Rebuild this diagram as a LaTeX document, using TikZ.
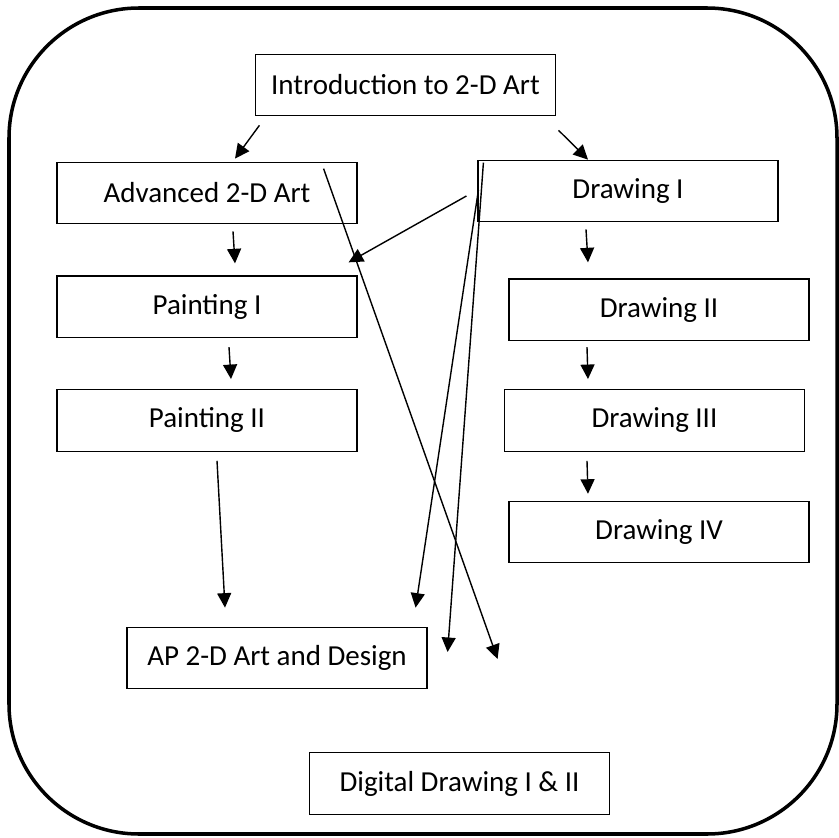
\documentclass[tikz,border=0pt]{standalone}
\usepackage{fontspec}
\setmainfont{Carlito}
\usetikzlibrary{arrows.meta,calc,positioning}
\tikzset{%
  arrow/.style={line width=0.8pt,-{Triangle[length=0.29cm,width=0.28cm]}},
  course/.style={rectangle,draw,line width=0.7pt,minimum width=6cm,minimum height=1.23cm,inner sep=0pt},
  frame/.style={draw,line width=2pt,rounded corners=2.6cm},
}

\begin{document}
\begin{tikzpicture}[x=0.02cm,y=-0.02cm,font=\fontsize{16.5pt}{20pt}\selectfont,node distance=1.02cm]
      \useasboundingbox (0,0) rectangle (839,838);
      \draw[frame] (9,8) rectangle (837,834);

      \node[course] (intro) at (405.5,85) {Introduction to 2-D Art};
      \node[course] (advanced) at (207,193) {Advanced 2-D Art};
      \node[course,below=of advanced] (painting1) {Painting I};
      \node[course,below=of painting1] (painting2) {Painting II};
      \node[course] (drawing1) at (628,191) {Drawing I};
      \node[course,below=1.12cm of drawing1,xshift=0.62cm] (drawing2) {Drawing II};
      \node[course,below=0.96cm of drawing2,xshift=-0.09cm] (drawing3) {Drawing III};
      \node[course,below=0.98cm of drawing3,xshift=0.09cm] (drawing4) {Drawing IV};
      \node[course] (ap) at (277,658) {AP 2-D Art and Design};
      \node[course] (digital) at (459.5,783.5) {Digital Drawing I \& II};

      \draw[arrow] ([shift={(4.5,9)}]intro.south west) -- ([shift={(28,-3)}]advanced.north);
      \draw[arrow] ([shift={(2.5,14)}]intro.south east) -- ([shift={(-40,0)}]drawing1.north);
      \draw[arrow] ([shift={(26,7)}]advanced.south) -- ([shift={(28,-12)}]painting1.north);
      \draw[arrow] ([shift={(22,9)}]painting1.south) -- ([shift={(24,-10)}]painting2.north);
      \draw[arrow] ([shift={(10,9)}]painting2.south) -- ([shift={(-52,-19)}]ap.north);
      \draw[arrow] ([shift={(-42,7)}]drawing1.south) -- ([shift={(-71,-16)}]drawing2.north);
      \draw[arrow] ([shift={(-72,6)}]drawing2.south) -- ([shift={(-66.5,-10)}]drawing3.north);
      \draw[arrow] ([shift={(-67.5,9)}]drawing3.south) -- ([shift={(-71,-7)}]drawing4.north);

      \draw[arrow] ([shift={(-11,5)}]drawing1.west) -- ([shift={(-9,-13)}]painting1.north east);
      \draw[arrow] ([shift={(-34,7)}]advanced.north east) -- ([shift={(70,1)}]ap.east);
      \draw[arrow] ([shift={(1,-1)}]drawing1.west) -- ([shift={(-12,-19)}]ap.north east);
      \draw[arrow] ([shift={(6,3)}]drawing1.north west) -- ([shift={(20,-6)}]ap.east);
    \end{tikzpicture}
\end{document}
